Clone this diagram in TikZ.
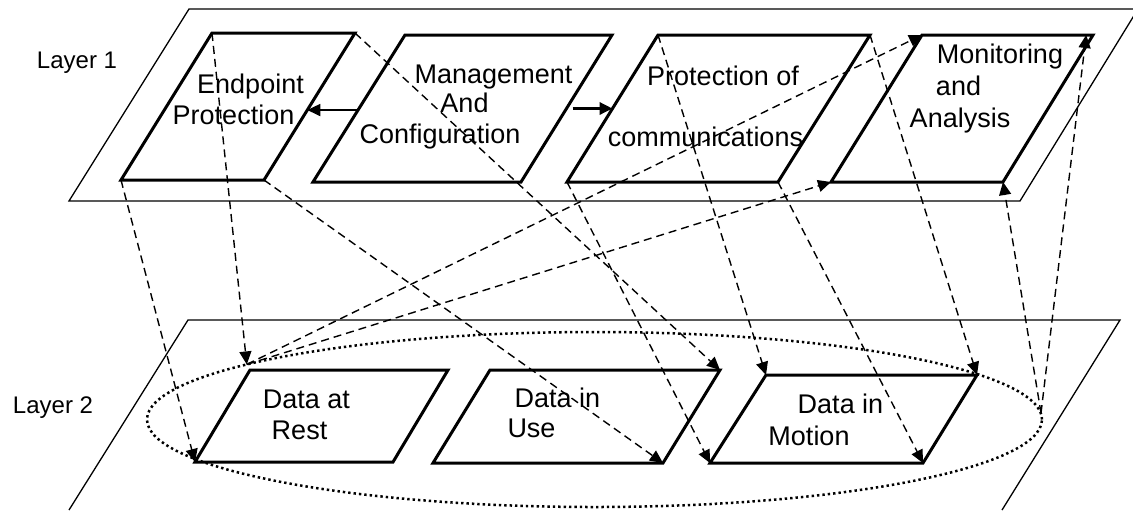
\documentclass[tikz,border=0pt]{standalone}
\usepackage{fontspec}
\setmainfont{Liberation Sans}
\usetikzlibrary{arrows.meta,calc,shapes.geometric}

\begin{document}
\begin{tikzpicture}[x=0.5pt,y=-0.5pt,
  layer/.style={line width=0.65pt},
  box/.style={line width=1.5pt},
  link/.style={line width=0.7pt, dash pattern=on 4pt off 2.5pt,
               -{Triangle[length=6.5pt,width=6pt]}},
  push/.style={-{Triangle[length=6.5pt,width=6pt]}},
  group/.style={draw, ellipse, line width=1.25pt, dash pattern=on 1.2pt off 1.5pt,
                inner sep=0pt, outer sep=0pt},
  lbl/.style={font=\fontsize{13.5}{16}\selectfont, anchor=base, inner sep=0pt},
  tag/.style={font=\fontsize{12}{14}\selectfont, anchor=base, inner sep=0pt}]

\useasboundingbox (0,0) rectangle (1133,510);
\clip (0,0) rectangle (1133,510);

% ---- the two layer planes ----
\draw[layer] (189,9) -- (1138,9) -- (1020,201) -- (69,201) -- cycle;
\draw[layer] (69,510) -- (188,320) -- (1120,320) -- (1002,510);

\node[tag] (t-l1) at (77,68) {Layer 1};
\node[tag] (t-l2) at (53,413) {Layer 2};

% ---- corners of the layer 1 blocks ----
\coordinate (ep-tl) at (212,33);  \coordinate (ep-tr) at (355,33);
\coordinate (ep-br) at (264,180); \coordinate (ep-bl) at (121,180);
\coordinate (mc-tl) at (405,35);  \coordinate (mc-tr) at (612,35);
\coordinate (mc-br) at (521,182); \coordinate (mc-bl) at (313,182);
\coordinate (pc-tl) at (658,35);  \coordinate (pc-tr) at (870,35);
\coordinate (pc-br) at (778,182); \coordinate (pc-bl) at (567,182);
\coordinate (mo-tl) at (922,35);  \coordinate (mo-tr) at (1093,35);
\coordinate (mo-br) at (1003,182); \coordinate (mo-bl) at (831,182);

% ---- corners of the layer 2 blocks ----
\coordinate (dr-tl) at (250,370); \coordinate (dr-tr) at (448,370);
\coordinate (dr-br) at (393,462); \coordinate (dr-bl) at (195,462);
\coordinate (du-tl) at (490,370); \coordinate (du-tr) at (720,370);
\coordinate (du-br) at (663,463); \coordinate (du-bl) at (433,463);
\coordinate (dm-tl) at (766,375); \coordinate (dm-tr) at (977,375);
\coordinate (dm-br) at (923,463); \coordinate (dm-bl) at (710,463);

\foreach \b in {ep,mc,pc,mo,dr,du,dm}
  \draw[box] (\b-tl) -- (\b-tr) -- (\b-br) -- (\b-bl) -- cycle;

% ---- data group ----
\node[group, minimum width=447.5pt, minimum height=87.5pt] (grp) at (594.5,419.5) {};
\coordinate (hub) at (1041,413);

% ---- block labels ----
\node[lbl] (ep-1) at (250.5,93) {Endpoint};
\node[lbl] (ep-2) at (233.5,124) {Protection};
\node[lbl] (mc-1) at (493.5,83) {Management};
\node[lbl] (mc-2) at (464.5,112) {And};
\node[lbl] (mc-3) at (440,143) {Configuration};
\node[lbl] (pc-1) at (723,85) {Protection of};
\node[lbl] (pc-2) at (705.5,146.5) {communications};
\node[lbl] (mo-1) at (1000,63) {Monitoring};
\node[lbl] (mo-2) at (958.5,95) {and};
\node[lbl] (mo-3) at (960,127) {Analysis};
\node[lbl] (dr-1) at (306.5,408) {Data at};
\node[lbl] (dr-2) at (299.5,439) {Rest};
\node[lbl] (du-1) at (557.5,407) {Data in};
\node[lbl] (du-2) at (531.5,437) {Use};
\node[lbl] (dm-1) at (840.5,413) {Data in};
\node[lbl] (dm-2) at (809,445) {Motion};

% ---- solid arrows within layer 1 ----
\draw[push, line width=0.9pt] ($(mc-tl)!0.51!(mc-bl)$) -- ($(ep-tr)!0.524!(ep-br)$);
\draw[push, line width=1.8pt, shorten <=3pt] ($(mc-tr)!0.5!(mc-br)$) -- ($(pc-tl)!0.5!(pc-bl)$);

% ---- dashed links between the layers ----
\draw[link] (ep-tl) -- (grp.171);
\draw[link] (ep-bl) -- (dr-bl);
\draw[link] (ep-tr) -- (du-tr);
\draw[link] (ep-br) -- (du-br);
\draw[link] (pc-tl) -- (dm-tl);
\draw[link] (pc-bl) -- (dm-bl);
\draw[link] (pc-tr) -- (dm-tr);
\draw[link] (pc-br) -- (dm-br);
\draw[link] (grp.171) -- (mo-tl);
\draw[link] (grp.171) -- (mo-bl);
\draw[link] (hub) -- ($(mo-tl)!0.96!(mo-tr)$);
\draw[link] (hub) -- (mo-br);
\end{tikzpicture}
\end{document}
